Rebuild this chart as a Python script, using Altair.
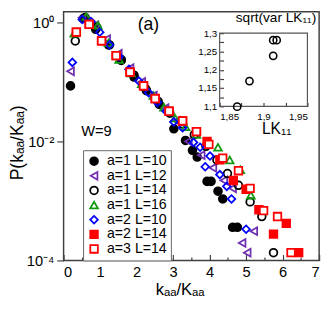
import altair as alt
import pandas as pd

series = ["a=1 L=10", "a=1 L=12", "a=1 L=14", "a=1 L=16", "a=2 L=10", "a=2 L=14", "a=3 L=14"]

x1 = [0.19, 0.54, 0.88, 1.23, 1.58, 1.93, 2.27, 2.62, 3.02, 3.34, 3.53, 3.66, 3.93, 4.04, 4.23, 4.36, 4.63, 4.76]
p1 = [0.0859, 1.163, 0.768, 0.420, 0.230, 0.121, 0.0712, 0.0420, 0.0163, 0.0104, 0.00711, 0.00547, 0.00213, 0.00213, 0.00146, 0.00108, 0.000361, 0.000361]

x2 = [0.19, 0.51, 0.86, 1.18, 1.50, 1.82, 2.14, 2.46, 2.78, 3.10, 3.42, 3.77, 4.09, 4.39, 4.63, 4.89, 5.03, 5.21]
p2 = [0.151, 1.208, 0.893, 0.526, 0.299, 0.170, 0.100, 0.0589, 0.0361, 0.0221, 0.0100, 0.00589, 0.00361, 0.00221, 0.00163, 0.000197, 0.000135, 0.000310]

x3 = [0.32, 0.59, 0.91, 1.26, 1.58, 1.93, 2.25, 2.59, 2.91, 3.26, 3.58, 3.90, 4.20, 4.49, 4.79, 5.11, 5.43, 5.75]
p3 = [0.489, 1.208, 0.828, 0.420, 0.238, 0.130, 0.0768, 0.0470, 0.0299, 0.0197, 0.0130, 0.00828, 0.00489, 0.00288, 0.00183, 0.000964, 0.000547, 0.000135]

x4 = [0.29, 0.62, 0.94, 1.23, 1.52, 1.85, 2.14, 2.46, 2.75, 3.05, 3.34, 3.64, 3.93, 4.23, 4.55, 4.84, 5.13]
p4 = [0.660, 1.254, 0.893, 0.453, 0.238, 0.1405, 0.0927, 0.0589, 0.0375, 0.0247, 0.0176, 0.0130, 0.00964, 0.00797, 0.00489, 0.00335, 0.00125]

x5 = [0.24, 0.51, 0.75, 0.99, 1.26, 1.52, 1.79, 2.06, 2.33, 2.57, 2.81, 3.02, 3.26, 3.56, 3.74, 3.88, 4.01, 4.28, 4.47, 4.60, 5.00]
p5 = [0.213, 1.120, 1.038, 0.686, 0.420, 0.267, 0.163, 0.1038, 0.0660, 0.0453, 0.0322, 0.0213, 0.0170, 0.00964, 0.00797, 0.00375, 0.00568, 0.00277, 0.00176, 0.00108, 0.000335]

x6 = [0.35, 0.70, 1.04, 1.44, 1.82, 2.19, 2.51, 2.89, 3.26, 3.64, 3.93, 4.28, 4.65, 5.00, 5.35, 5.75, 6.10, 6.44]
p6 = [0.686, 0.927, 0.489, 0.277, 0.146, 0.0859, 0.0526, 0.0322, 0.0221, 0.0146, 0.0100, 0.00489, 0.00221, 0.00157, 0.000711, 0.000277, 0.000420, 0.000135]

x7 = [0.35, 0.70, 1.04, 1.44, 1.82, 2.19, 2.51, 2.89, 3.26, 3.64, 3.98, 4.36, 4.79, 5.11, 5.48, 5.86, 6.23]
p7 = [0.686, 0.927, 0.489, 0.277, 0.146, 0.0859, 0.0526, 0.0322, 0.0221, 0.0146, 0.00893, 0.00526, 0.00322, 0.00163, 0.000685, 0.000547, 0.000135]

inset_lk = [1.870, 1.884, 1.911, 1.911, 1.915]
inset_sd = [1.099, 1.169, 1.238, 1.281, 1.281]

x_ticks_major = [0, 1, 2, 3, 4, 5, 6, 7]
x_ticks_minor = [0.5, 1.5, 2.5, 3.5, 4.5, 5.5, 6.5]
y_ticks = [1, 0.01, 0.0001]
inset_x_domain = [1.85, 1.95]
inset_y_domain = [1.1, 1.3]
inset_x_labels = [1.85, 1.9, 1.95]
inset_y_labels = [1.1, 1.15, 1.2, 1.25, 1.3]
inset_x_ticks = [1.85, 1.875, 1.9, 1.925, 1.95]
inset_y_ticks = [1.1, 1.125, 1.15, 1.175, 1.2, 1.225, 1.25, 1.275, 1.3]

shapes = ["circle", "triangle-left", "circle", "triangle-up", "diamond", "square", "square"]
fills = ["black", "transparent", "transparent", "transparent", "transparent", "red", "white"]
strokes = ["black", "#7030b0", "black", "#119a11", "blue", "red", "red"]
sizes = [64, 60, 64, 60, 50, 72, 80]

rows = []
for name, xs_, ps_ in zip(series, [x1, x2, x3, x4, x5, x6, x7], [p1, p2, p3, p4, p5, p6, p7]):
    for a, b in zip(xs_, ps_):
        rows.append({"x": a, "P": b, "series": name})
df = pd.DataFrame(rows)
inset_df = pd.DataFrame({"lk": inset_lk, "sd": inset_sd})
box_df = pd.DataFrame({"x0": [inset_x_domain[0]], "x1": [inset_x_domain[1]],
                       "y0": [inset_y_domain[0]], "y1": [inset_y_domain[1]]})

FONT = "Liberation Sans"
W, H = 262, 255

xs = alt.Scale(domain=[0, 7], nice=False, zero=False)
ys = alt.Scale(type="log", domain=[0.0001, 1.5146], nice=False)
xi = alt.Scale(domain=inset_x_domain, range=[160, 250], nice=False, zero=False)
yi = alt.Scale(domain=inset_y_domain, range=[97, 22], nice=False, zero=False)

leg = alt.Legend(orient="none", legendX=20, legendY=142, title=None, fillColor="white",
                 strokeColor="#666666", padding=4, labelFontSize=14.5, labelFont=FONT,
                 rowPadding=-1, labelOffset=6, symbolStrokeWidth=1.8)

pts = alt.Chart(df).mark_point(strokeWidth=1.8, opacity=1).encode(
    x=alt.X("x:Q", scale=xs, axis=alt.Axis(orient="bottom", values=x_ticks_major, tickSize=0,
                                            labelPadding=4, domain=False, grid=False, format="d",
                                            labelFontSize=15, title="kₐₐ/Kₐₐ", titleFontSize=17,
                                            titleX=119, titleY=35, titleBaseline="alphabetic",
                                            titleAlign="center")),
    y=alt.Y("P:Q", scale=ys, axis=alt.Axis(orient="left", values=y_ticks, tickSize=7, labelPadding=3,
                                            domain=False, grid=False, labelFontSize=15,
                                            labelExpr="datum.value >= 1 ? '10⁰' : (datum.value >= 0.01 ? '10⁻²' : '10⁻⁴')",
                                            title="P(kₐₐ/Kₐₐ)", titleFontSize=18, titleAngle=270,
                                            titleX=-42, titleY=134, titleAlign="center",
                                            titleBaseline="alphabetic")),
    shape=alt.Shape("series:N", scale=alt.Scale(domain=series, range=shapes), legend=leg),
    fill=alt.Fill("series:N", scale=alt.Scale(domain=series, range=fills), legend=leg),
    stroke=alt.Stroke("series:N", scale=alt.Scale(domain=series, range=strokes), legend=leg),
    size=alt.Size("series:N", scale=alt.Scale(domain=series, range=sizes), legend=leg),
)

tick_major = alt.Chart(df).mark_point(opacity=0).encode(
    x=alt.X("x:Q", scale=xs, axis=alt.Axis(orient="top", offset=-H, values=x_ticks_major, tickSize=6,
                                            labels=False, domain=False, grid=False, title=None)),
    y=alt.Y("P:Q", scale=ys, axis=None),
)
tick_minor = alt.Chart(df).mark_point(opacity=0).encode(
    x=alt.X("x:Q", scale=xs, axis=alt.Axis(orient="top", offset=-H, values=x_ticks_minor, tickSize=3.5,
                                            labels=False, domain=False, grid=False, title=None)),
    y=alt.Y("P:Q", scale=ys, axis=None),
)

lab_expr = "replace(format(datum.value, '.2~f'), '.', ',')"
box = alt.Chart(box_df).mark_rect(fill="transparent", stroke="#555555", strokeWidth=1.2).encode(
    x=alt.X("x0:Q", scale=xi, axis=alt.Axis(orient="bottom", offset=-(H - 97), values=inset_x_labels,
                                             tickSize=0, labelPadding=5, domain=False, grid=False,
                                             labelFontSize=10, labelExpr=lab_expr,
                                             title="LK₁₁", titleFontSize=16, titleX=218, titleY=28,
                                             titleBaseline="alphabetic", titleAlign="center")),
    x2="x1:Q",
    y=alt.Y("y0:Q", scale=yi, axis=alt.Axis(orient="left", offset=-160, values=inset_y_labels,
                                             tickSize=0, labelPadding=3, domain=False, grid=False,
                                             labelFontSize=10, labelExpr=lab_expr, title=None)),
    y2="y1:Q",
)
inset_ticks = alt.Chart(inset_df).mark_point(opacity=0).encode(
    x=alt.X("lk:Q", scale=xi, axis=alt.Axis(orient="top", offset=-97, values=inset_x_ticks, tickSize=4,
                                             labels=False, domain=False, grid=False, title=None)),
    y=alt.Y("sd:Q", scale=yi, axis=alt.Axis(orient="right", offset=-(W - 160), values=inset_y_ticks,
                                             tickSize=4, labels=False, domain=False, grid=False,
                                             title=None)),
)
inset_pts = alt.Chart(inset_df).mark_point(shape="circle", filled=False, color="black", size=55,
                                           strokeWidth=1.6, opacity=1).encode(
    x=alt.X("lk:Q", scale=xi, axis=None),
    y=alt.Y("sd:Q", scale=yi, axis=None),
)

ann = pd.DataFrame({"t": ["(a)", "W=9", "sqrt(var LK₁₁)"]})
t_a = alt.Chart(ann).transform_filter("datum.t == '(a)'").mark_text(
    fontSize=18, font=FONT, align="center", baseline="middle").encode(
    x=alt.value(87), y=alt.value(14), text="t:N")
t_w = alt.Chart(ann).transform_filter("datum.t == 'W=9'").mark_text(
    fontSize=15, font=FONT, align="left", baseline="alphabetic").encode(
    x=alt.value(18), y=alt.value(127), text="t:N")
t_s = alt.Chart(ann).transform_filter("indexof(datum.t, 'sqrt') == 0").mark_text(
    fontSize=14, font=FONT, align="right", baseline="alphabetic").encode(
    x=alt.value(259), y=alt.value(11), text="t:N")

chart = alt.layer(pts, tick_major, tick_minor, box, inset_ticks, inset_pts, t_a, t_w, t_s).resolve_scale(
    x="independent", y="independent"
).properties(
    width=W, height=H,
    autosize=alt.AutoSizeParams(type="none"),
    padding={"left": 57, "top": 0, "right": 5, "bottom": 47},
).configure_view(stroke="#404040", strokeWidth=1.5).configure_axis(
    labelFont=FONT, titleFont=FONT, labelColor="black", titleColor="black",
    tickColor="#404040", titleFontWeight="normal", tickWidth=1.2
).configure_text(font=FONT)

chart.save("out.html", embed_options={"renderer": "svg", "actions": False})
